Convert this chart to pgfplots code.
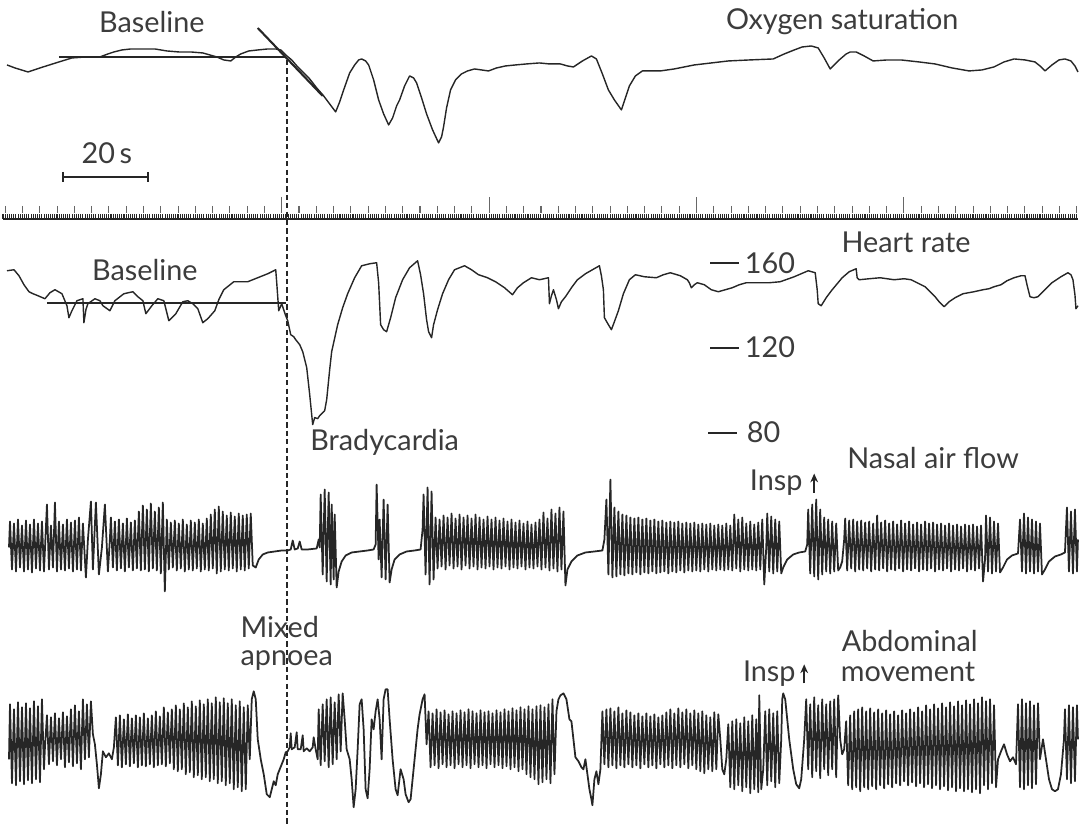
\documentclass[border=0pt]{standalone}
\usepackage{pgfplots}
\pgfplotsset{compat=1.18}
\usepackage{fontspec}
\setmainfont{Lato}
\usetikzlibrary{arrows.meta}
\definecolor{ink}{HTML}{262626}
\definecolor{txt}{HTML}{3C3C3C}
\tikzset{
  tr/.style={ink, line width=0.4pt, line join=round},
  trd/.style={ink, line width=0.5pt, line join=round},
  lab/.style={text=txt, font=\fontsize{8.2}{9.5}\selectfont, inner sep=0pt},
}
\begin{document}
\begin{tikzpicture}
\begin{axis}[
  scale only axis, width=10.79cm, height=8.27cm,
  xmin=0, xmax=1079, ymin=0, ymax=827, y dir=reverse,
  hide axis, clip=false,
]
% ---------- Oxygen saturation ----------
\addplot[tr] coordinates {(7,65)(15,68)(28,72)(40,68)(59,62)(72,58)(86,57)(100,57)(108,54)(114,52)(122,50)(131,49)(143,49)(155,49)(167,51)(179,52)(191,52)(203,53)(210,55)(217,57)(224,60)(231,61)(236,57)(241,54)(249,51)(258,50)(268,49)(276,49)(281,50)(286,55)(292,60)(298,67)(304,73)(310,79)(317,88)(324,96)(330,104)(336,112)(340,102)(344,90)(350,73)(355,65)(359,60)(362,59)(366,61)(369,65)(374,80)(379,100)(384,114)(389,125)(393,118)(397,106)(400,100)(405,86)(410,76)(414,78)(417,83)(422,98)(427,114)(433,130)(439,143)(442,137)(444,127)(447,108)(451,90)(456,80)(462,74)(468,71)(475,69)(482,70)(489,71)(497,68)(506,66)(516,65)(527,64)(540,63)(550,64)(561,64)(568,66)(574,67)(583,61)(592,56)(597,59)(603,74)(609,90)(615,100)(622,110)(626,98)(630,86)(636,76)(643,71)(652,71)(661,71)(675,69)(695,65)(712,63)(729,61)(750,60)(774,59)(785,54)(795,50)(803,47)(812,46)(819,48)(825,58)(831,69)(836,64)(840,60)(847,54)(851,52)(857,52)(865,56)(874,61)(888,60)(902,60)(920,62)(936,64)(953,68)(970,71)(983,70)(995,67)(1005,62)(1015,59)(1026,60)(1036,62)(1041,66)(1046,71)(1053,65)(1060,60)(1066,59)(1072,61)(1076,66)(1079,72)};
\addplot[ink, line width=0.6pt] coordinates {(59,57)(286,57)};
\addplot[ink, line width=0.6pt] coordinates {(258,28)(323,96)};
% ---------- Heart rate ----------
\addplot[tr] coordinates {(7,271)(14,270)(19,276)(24,285)(29,292)(33,294)(38,296)(45,299)(50,293)(55,290)(62,294)(67,306)(69,318)(72,311)(77,301)(83,299)(84,323)(86,310)(88,304)(95,299)(100,301)(103,306)(110,311)(115,301)(124,294)(133,292)(138,297)(143,301)(146,314)(152,306)(158,299)(164,301)(169,321)(176,314)(183,302)(188,301)(193,304)(198,309)(203,323)(208,319)(215,311)(219,300)(224,290)(234,282)(248,282)(258,278)(268,274)(276,270)(277,283)(279,311)(282,304)(286,316)(288,321)(291,335)(294,337)(296,340)(300,345)(303,352)(307,368)(310,395)(313,425)(315,418)(318,419)(320,416)(323,413)(325,411)(327,400)(330,370)(332,352)(338,325)(343,308)(348,294)(355,278)(362,266)(370,264)(377,263)(379,283)(381,325)(384,330)(387,332)(391,318)(396,298)(403,280)(410,268)(418,261)(421,275)(424,294)(427,320)(429,332)(432,338)(434,325)(438,310)(443,294)(449,280)(455,270)(465,266)(472,270)(479,275)(488,278)(496,282)(505,288)(513,295)(518,288)(524,283)(532,278)(540,280)(549,278)(550,304)(552,296)(554,290)(557,300)(559,309)(562,302)(566,297)(572,288)(578,280)(586,274)(593,270)(600,266)(602,276)(604,290)(605,318)(609,325)(612,330)(615,322)(619,311)(624,294)(630,280)(636,275)(645,277)(657,278)(664,275)(671,273)(681,276)(688,280)(690,283)(692,288)(695,285)(698,283)(705,285)(712,290)(719,292)(726,290)(733,288)(740,285)(747,283)(760,283)(770,283)(781,282)(795,277)(809,271)(816,273)(818,290)(819,304)(822,306)(827,298)(833,290)(838,284)(843,278)(850,272)(857,269)(858,278)(860,280)(870,279)(881,278)(895,280)(905,279)(912,280)(920,284)(926,287)(931,292)(936,297)(940,302)(945,307)(950,302)(956,298)(964,294)(975,292)(984,290)(990,289)(995,287)(1002,285)(1008,281)(1015,278)(1022,276)(1026,276)(1028,285)(1031,297)(1035,298)(1039,297)(1046,290)(1053,283)(1062,277)(1069,273)(1072,275)(1074,280)(1076,295)(1077,309)(1079,306)};
\addplot[ink, line width=0.6pt] coordinates {(47,303)(286,303)};
% ---------- Nasal air flow ----------
\addplot[trd] coordinates {(9,548)(10,522)(12,570)(14,524)(16,572)(18,520)(20,568)(22,526)(24,572)(26,521)(28,570)(30,525)(32,573)(34,520)(36,569)(38,524)(40,571)(42,522)(44,572)(47,505)(49,570)(51,526)(53,568)(55,503)(57,572)(59,522)(61,570)(63,525)(65,571)(67,520)(69,569)(71,523)(73,572)(75,521)(77,570)(79,518)(81,571)(83,524)(86,578)(88,540)(91,502)(93,570)(96,503)(99,575)(102,548)(105,505)(108,572)(110,540)(111,518)(113,568)(115,522)(117,571)(119,520)(121,569)(123,524)(125,572)(127,519)(129,568)(131,523)(133,571)(135,521)(137,569)(139,512)(141,571)(143,506)(145,570)(147,510)(149,572)(151,504)(153,569)(155,512)(157,571)(159,508)(161,574)(163,503)(165,592)(167,520)(169,570)(171,523)(173,568)(175,521)(177,571)(179,524)(181,569)(183,520)(185,572)(187,525)(189,570)(191,521)(193,571)(195,523)(197,569)(199,520)(201,572)(203,524)(205,570)(207,519)(209,571)(211,515)(213,569)(215,510)(217,574)(219,507)(221,572)(223,512)(225,570)(227,516)(229,571)(231,513)(233,569)(235,517)(237,572)(239,514)(241,570)(243,516)(245,571)(247,515)(249,569)(251,514)(253,566)(256,568)(259,560)(263,555)(268,553)(275,552)(282,551)(288,551)(291,550)(293,541)(295,550)(298,549)(300,542)(302,550)(308,550)(317,549)(319,540)(320,548)(321,495)(323,575)(325,490)(327,582)(329,493)(331,585)(332,505)(334,580)(335,515)(337,588)(339,572)(342,562)(346,556)(352,553)(360,552)(368,551)(374,550)(376,545)(377,485)(379,560)(380,520)(382,578)(384,500)(386,580)(388,505)(390,583)(392,570)(395,560)(400,555)(407,552)(415,551)(421,550)(422,540)(423,530)(424,495)(426,575)(428,488)(430,585)(432,492)(434,580)(436,518)(438,569)(440,520)(442,567)(444,516)(446,570)(448,518)(450,566)(452,514)(454,569)(456,519)(458,567)(460,515)(462,570)(464,518)(466,566)(468,516)(470,569)(472,519)(474,567)(476,515)(478,570)(480,518)(482,568)(484,520)(486,569)(488,517)(490,567)(492,520)(494,570)(496,518)(498,568)(500,521)(502,569)(504,519)(506,567)(508,522)(510,570)(512,520)(514,568)(516,523)(518,569)(520,521)(522,567)(524,524)(526,570)(528,522)(530,568)(532,525)(534,569)(536,523)(538,567)(540,520)(542,570)(544,513)(546,568)(548,519)(550,571)(552,510)(554,569)(556,514)(558,572)(560,508)(562,570)(564,512)(566,586)(568,570)(572,562)(578,556)(586,553)(595,552)(603,551)(605,540)(607,500)(609,575)(611,480)(613,578)(615,508)(617,577)(619,512)(621,575)(623,515)(625,576)(627,516)(629,574)(631,518)(633,575)(635,519)(637,573)(639,518)(641,575)(643,520)(645,573)(647,519)(649,574)(651,521)(653,572)(655,520)(657,574)(659,522)(661,573)(663,521)(665,572)(667,523)(669,574)(671,522)(673,572)(675,523)(677,573)(679,522)(681,571)(683,524)(685,573)(687,523)(689,571)(691,524)(693,572)(695,523)(697,571)(699,525)(701,572)(703,524)(705,570)(707,525)(709,572)(711,524)(713,570)(715,526)(717,571)(719,525)(721,570)(723,526)(725,571)(727,524)(729,570)(731,526)(733,571)(735,515)(737,569)(739,520)(741,572)(743,518)(745,570)(747,524)(749,571)(751,522)(753,570)(755,525)(757,571)(759,523)(761,570)(763,520)(765,585)(767,548)(768,514)(770,572)(772,517)(774,574)(776,520)(778,572)(780,522)(782,574)(784,568)(788,560)(794,555)(800,553)(806,552)(808,545)(809,510)(811,574)(813,505)(815,577)(817,500)(819,580)(821,510)(823,575)(825,518)(827,572)(829,520)(831,574)(833,522)(835,572)(837,524)(839,571)(841,568)(843,562)(845,540)(846,519)(848,571)(850,521)(852,569)(854,520)(856,572)(858,522)(860,570)(862,521)(864,571)(866,523)(868,569)(870,522)(872,572)(874,524)(876,570)(878,516)(880,571)(882,523)(884,569)(886,521)(888,572)(890,524)(892,570)(894,522)(896,571)(898,525)(900,569)(902,521)(904,572)(906,524)(908,570)(910,522)(912,571)(914,525)(916,569)(918,523)(920,572)(922,525)(924,570)(926,522)(928,571)(930,524)(932,569)(934,523)(936,572)(938,525)(940,570)(942,524)(944,571)(946,526)(948,569)(950,524)(952,572)(954,526)(956,570)(958,525)(960,571)(962,527)(964,569)(966,525)(968,572)(970,526)(972,570)(974,525)(976,571)(978,527)(980,569)(982,526)(984,582)(986,560)(987,516)(989,572)(991,518)(993,574)(995,522)(997,572)(999,524)(1001,573)(1004,568)(1008,560)(1013,556)(1019,554)(1021,520)(1023,572)(1025,514)(1027,574)(1029,518)(1031,572)(1033,520)(1035,574)(1037,522)(1039,572)(1041,524)(1043,575)(1046,570)(1050,562)(1056,557)(1062,555)(1066,553)(1067,530)(1068,508)(1070,572)(1072,512)(1074,574)(1076,510)(1078,572)(1079,540)};
% ---------- Abdominal movement ----------
\addplot[trd] coordinates {(9,760)(10,705)(12,784)(14,710)(16,786)(18,703)(20,782)(22,708)(24,785)(26,704)(28,781)(30,709)(32,784)(34,702)(36,780)(38,707)(40,783)(42,700)(44,770)(45,748)(47,716)(49,765)(51,718)(53,762)(55,714)(57,766)(59,719)(61,760)(63,713)(65,768)(67,717)(69,763)(71,710)(73,767)(75,706)(77,764)(79,712)(81,770)(83,700)(85,760)(87,705)(89,758)(91,702)(93,735)(95,745)(97,765)(99,789)(101,775)(103,752)(106,758)(109,754)(112,760)(114,748)(116,718)(118,766)(120,716)(122,768)(124,720)(126,765)(128,715)(130,767)(132,719)(134,764)(136,716)(138,768)(140,718)(142,766)(144,714)(146,767)(148,719)(150,765)(152,716)(154,768)(156,712)(158,766)(160,717)(162,765)(164,708)(166,767)(168,713)(170,764)(172,710)(174,770)(176,706)(178,772)(180,710)(182,770)(184,704)(186,775)(188,708)(190,773)(192,702)(194,778)(196,707)(198,776)(200,701)(202,780)(204,705)(206,778)(208,700)(210,782)(212,704)(214,780)(216,698)(218,784)(220,703)(222,782)(224,699)(226,786)(228,704)(230,784)(232,700)(234,790)(236,706)(238,788)(240,702)(242,792)(244,708)(246,790)(248,706)(250,760)(252,700)(254,692)(256,700)(258,740)(261,760)(264,775)(267,795)(270,798)(272,790)(274,782)(276,786)(278,775)(280,770)(282,765)(284,760)(286,753)(288,752)(290,748)(291,734)(292,750)(295,748)(297,733)(298,750)(301,750)(303,736)(304,752)(307,749)(310,752)(313,748)(314,738)(316,750)(318,760)(319,710)(321,766)(323,705)(325,762)(327,700)(329,768)(331,698)(333,765)(335,703)(337,760)(339,695)(341,752)(343,694)(345,720)(347,750)(350,760)(352,780)(354,808)(356,790)(358,750)(360,705)(362,700)(364,730)(366,790)(368,799)(370,770)(372,720)(374,730)(376,712)(378,700)(380,720)(382,760)(384,700)(386,690)(388,690)(390,720)(393,760)(396,790)(398,796)(401,770)(404,780)(406,795)(409,803)(411,800)(413,780)(416,750)(418,730)(420,715)(423,700)(425,695)(427,745)(429,712)(431,768)(433,714)(435,766)(437,710)(439,769)(441,713)(443,765)(445,711)(447,768)(449,715)(451,766)(453,712)(455,769)(457,714)(459,765)(461,711)(463,768)(465,713)(467,766)(469,710)(471,769)(473,712)(475,765)(477,714)(479,768)(481,711)(483,766)(485,713)(487,769)(489,712)(491,765)(493,714)(495,768)(497,711)(499,766)(501,713)(503,769)(505,710)(507,767)(509,712)(511,770)(513,709)(515,768)(517,711)(519,772)(521,708)(523,770)(525,710)(527,775)(529,707)(531,778)(533,710)(535,780)(537,707)(539,785)(541,706)(543,783)(545,708)(547,780)(549,705)(551,784)(553,700)(555,775)(557,712)(559,700)(561,696)(564,694)(567,700)(570,720)(572,722)(574,740)(576,758)(579,762)(582,768)(584,770)(586,760)(588,775)(590,790)(592,800)(593,806)(595,780)(597,772)(599,785)(601,770)(603,712)(605,765)(607,710)(609,768)(611,709)(613,766)(615,712)(617,769)(619,708)(621,766)(623,714)(625,768)(627,711)(629,765)(631,713)(633,768)(635,716)(637,766)(639,714)(641,769)(643,717)(645,765)(647,714)(649,768)(651,717)(653,766)(655,715)(657,769)(659,718)(661,765)(663,716)(665,768)(667,713)(669,766)(671,710)(673,769)(675,714)(677,766)(679,709)(681,768)(683,713)(685,765)(687,710)(689,769)(691,714)(693,766)(695,711)(697,770)(699,714)(701,772)(703,712)(705,774)(707,716)(709,770)(711,718)(713,772)(715,713)(717,770)(719,715)(721,740)(723,770)(725,775)(727,760)(729,725)(731,788)(733,722)(735,790)(737,720)(739,786)(741,724)(743,792)(745,718)(747,788)(749,722)(751,794)(753,716)(755,790)(757,720)(759,793)(760,696)(762,790)(764,770)(766,712)(768,786)(770,710)(772,782)(774,714)(776,788)(778,712)(780,784)(782,740)(783,700)(784,694)(786,700)(790,740)(794,770)(797,785)(800,789)(802,780)(805,740)(807,700)(809,770)(811,705)(813,778)(815,698)(817,772)(819,706)(821,779)(823,700)(825,770)(827,705)(829,776)(831,702)(833,770)(835,700)(837,778)(839,696)(841,740)(843,755)(845,750)(847,722)(849,786)(851,716)(853,790)(855,712)(857,788)(859,710)(861,792)(863,708)(865,788)(867,712)(869,790)(871,709)(873,787)(875,713)(877,790)(879,710)(881,786)(883,714)(885,789)(887,711)(889,785)(891,715)(893,788)(895,712)(897,784)(899,716)(901,786)(903,711)(905,782)(907,714)(909,786)(911,710)(913,783)(915,713)(917,787)(919,708)(921,784)(923,712)(925,788)(927,706)(929,785)(931,710)(933,789)(935,705)(937,786)(939,709)(941,790)(943,704)(945,787)(947,708)(949,791)(951,703)(953,788)(955,707)(957,792)(959,702)(961,789)(963,706)(965,792)(967,701)(969,790)(971,705)(973,793)(975,700)(977,790)(979,704)(981,794)(983,698)(985,786)(987,702)(989,790)(991,700)(993,784)(995,706)(997,788)(999,760)(1002,752)(1005,745)(1008,755)(1011,762)(1014,758)(1017,765)(1019,705)(1021,788)(1023,700)(1025,790)(1027,704)(1029,786)(1031,702)(1033,789)(1035,706)(1037,785)(1039,704)(1041,760)(1044,740)(1047,760)(1050,780)(1053,790)(1056,792)(1059,790)(1062,775)(1065,740)(1066,710)(1068,780)(1070,706)(1072,784)(1074,708)(1076,782)(1078,706)(1079,740)};
% ---------- time ruler ----------
\draw[ink, line width=0.6pt] (axis cs:3,219) -- (axis cs:1079,219);
\pgfplotsinvokeforeach{0,...,497}{\draw[ink, line width=0.3pt] (axis cs:{3+#1*2.1625},214.5) -- (axis cs:{3+#1*2.1625},219);}
\pgfplotsinvokeforeach{0,...,62}{\draw[ink!70, line width=0.3pt] (axis cs:{5.2+#1*17.3},206) -- (axis cs:{5.2+#1*17.3},213);}
\pgfplotsinvokeforeach{1,...,4}{\draw[ink!70, line width=0.3pt] (axis cs:{74.4+#1*207.6},197) -- (axis cs:{74.4+#1*207.6},208);}
% ---------- dashed apnoea marker ----------
\draw[ink, line width=0.6pt, dash pattern=on 1.5pt off 0.9pt] (axis cs:287,60) -- (axis cs:287,827);
% ---------- 20 s scale bar ----------
\draw[ink, line width=0.6pt] (axis cs:63,177) -- (axis cs:148,177);
\draw[ink, line width=0.6pt] (axis cs:63,172) -- (axis cs:63,182);
\draw[ink, line width=0.6pt] (axis cs:148,172) -- (axis cs:148,182);
\node[lab] at (axis cs:107,153) {20\,s};
% ---------- heart-rate scale ----------
\draw[ink, line width=0.6pt] (axis cs:711,263) -- (axis cs:740,263);
\draw[ink, line width=0.6pt] (axis cs:711,348) -- (axis cs:740,348);
\draw[ink, line width=0.6pt] (axis cs:709,433) -- (axis cs:738,433);
\node[lab, anchor=west] at (axis cs:745,263) {160};
\node[lab, anchor=west] at (axis cs:745,348) {120};
\node[lab, anchor=west] at (axis cs:747,433) {80};
% ---------- labels ----------
\node[lab] at (axis cs:152,22) {Baseline};
\node[lab] at (axis cs:843,22) {Oxygen saturation};
\node[lab] at (axis cs:145,270) {Baseline};
\node[lab] at (axis cs:907,243) {Heart rate};
\node[lab] at (axis cs:385,443) {Bradycardia};
\node[lab] at (axis cs:934,458) {Nasal air flow};
\node[lab, anchor=east] at (axis cs:804,483) {Insp};
\draw[ink, line width=0.5pt, -{Stealth[length=2.5pt,width=2.2pt]}] (axis cs:815,493) -- (axis cs:815,474);
\node[lab] at (axis cs:280,628) {Mixed};
\node[lab] at (axis cs:287,661) {apnoea};
\node[lab, anchor=west] at (axis cs:842,642) {Abdominal};
\node[lab, anchor=west] at (axis cs:841,673) {movement};
\node[lab, anchor=east] at (axis cs:797,674) {Insp};
\draw[ink, line width=0.5pt, -{Stealth[length=2.5pt,width=2.2pt]}] (axis cs:805,684) -- (axis cs:805,665);
\path (axis cs:0,0) rectangle (axis cs:1079,827);
\end{axis}
\end{tikzpicture}
\end{document}
